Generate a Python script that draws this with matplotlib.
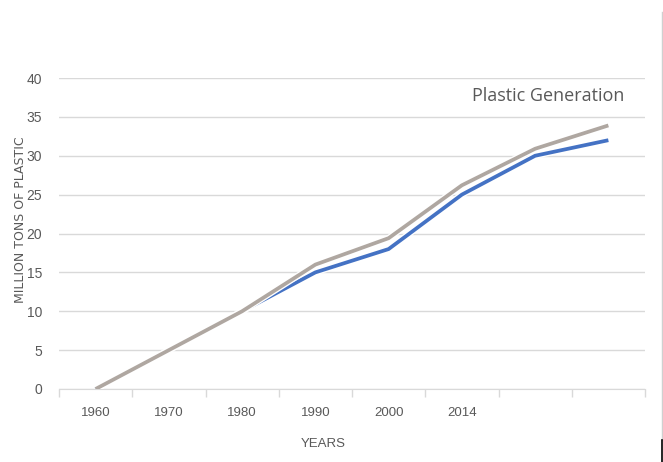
import matplotlib.pyplot as plt
import matplotlib.patheffects as pe

years = ['1960', '1970', '1980', '1990', '2000', '2014', '', '']
blue_vals = [0, 5, 10, 15, 18, 25, 30, 32]
gray_vals = [0, 5, 10, 16, 19.4, 26.2, 30.9, 33.9]

plt.rcParams['font.family'] = ['Liberation Sans', 'DejaVu Sans']

fig = plt.figure(figsize=(6.63, 4.62), dpi=100)
ax = fig.add_axes([59/663, 73/462, 586/663, 311/462])

x = range(len(years))
outline = [pe.Stroke(linewidth=4.6, foreground='white'), pe.Normal()]
ax.plot(x, blue_vals, color='#4472C4', lw=2.7, solid_capstyle='butt', path_effects=outline, zorder=3)
ax.plot(x, gray_vals, color='#AFA7A1', lw=2.7, solid_capstyle='butt', path_effects=outline, zorder=4)

ax.set_xlim(-0.5, len(years) - 0.5)
ax.set_ylim(0, 40)
ax.set_yticks(range(0, 41, 5))
ax.set_xticks(list(x))
ax.set_xticklabels(years)
ax.set_xticks([i - 0.5 for i in range(len(years) + 1)], minor=True)
ax.tick_params(axis='x', which='major', length=0, pad=13, labelsize=9.5, labelcolor='#595959')
ax.tick_params(axis='x', which='minor', length=6, color='#D9D9D9', width=1)
ax.tick_params(axis='y', length=0, pad=12, labelsize=10, labelcolor='#595959')

ax.grid(axis='y', color='#D9D9D9', lw=1)
ax.set_axisbelow(True)
for s in ['top', 'right', 'left']:
    ax.spines[s].set_visible(False)
ax.spines['bottom'].set_color('#D9D9D9')

fig.text(323/663, 1 - 444/462, 'YEARS', ha='center', va='center', fontsize=9.5, color='#595959')
fig.text(21/663, 1 - 220/462, 'MILLION TONS OF PLASTIC', rotation=90, ha='center', va='center',
         fontsize=9, color='#595959', family=['DejaVu Sans'])
ax.text(548/663, 1 - 96/462, 'Plastic Generation', transform=fig.transFigure, ha='center', va='center',
        fontsize=13, color='#595959', family=['Open Sans', 'DejaVu Sans'])

# thin frame edge on the right
fig.add_artist(plt.Line2D([661.5/663, 661.5/663], [1 - 440/462, 1 - 12/462], color='#D0D0D0', lw=1))
fig.add_artist(plt.Line2D([661.5/663, 661.5/663], [0, 1 - 440/462], color='black', lw=1.2))

fig.savefig('out.png', dpi=100)
